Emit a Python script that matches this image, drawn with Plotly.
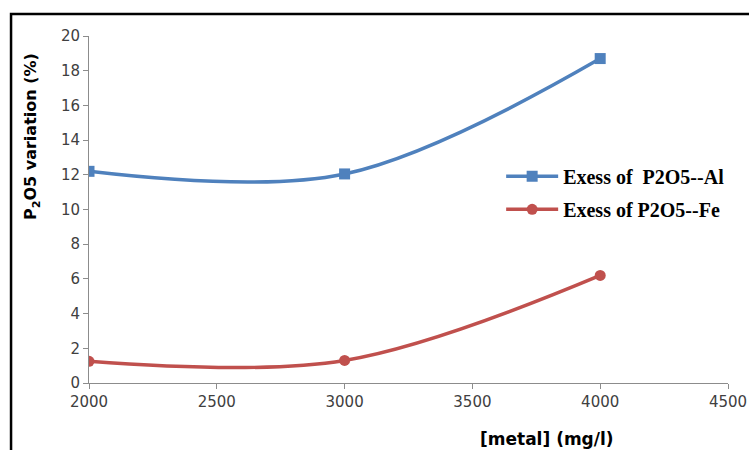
import plotly.graph_objects as go

metal = [2000, 3000, 4000]
excess_al = [12.2, 12.05, 18.7]
excess_fe = [1.25, 1.3, 6.2]
x_ticks = [2000, 2500, 3000, 3500, 4000, 4500]
y_ticks = [0, 2, 4, 6, 8, 10, 12, 14, 16, 18, 20]

fig = go.Figure()
fig.add_trace(go.Scatter(
    x=metal, y=excess_al, mode="lines+markers", name="<b>Exess of  P2O5--Al</b>",
    legendgroup="al",
    line=dict(color="#4F81BD", width=3.5, shape="spline", smoothing=1),
    marker=dict(symbol="square", size=11, color="#4F81BD")))
fig.add_trace(go.Scatter(
    x=metal, y=excess_fe, mode="lines+markers", name="<b>Exess of P2O5--Fe</b>",
    legendgroup="fe",
    line=dict(color="#C0504D", width=3.5, shape="spline", smoothing=1),
    marker=dict(symbol="circle", size=11, color="#C0504D")))

axis_font = dict(family="DejaVu Sans, sans-serif", size=15, color="#404040")
fig.update_layout(
    width=749, height=450,
    margin=dict(l=89, r=21, t=36, b=67),
    paper_bgcolor="white", plot_bgcolor="white",
    showlegend=True,
    legend=dict(x=0.645, y=0.548, xanchor="left", yanchor="middle",
                bgcolor="rgba(0,0,0,0)",
                font=dict(family="Liberation Serif, serif", size=20, color="black"),
                itemwidth=52, tracegroupgap=4),
    xaxis=dict(range=[2000, 4500], tickvals=x_ticks, showgrid=False, zeroline=False,
               showline=True, linecolor="#8c8c8c", linewidth=1,
               ticks="outside", ticklen=5, tickcolor="#8c8c8c",
               tickfont=axis_font, automargin=False),
    yaxis=dict(range=[0, 20], tickvals=y_ticks, showgrid=False, zeroline=False,
               showline=True, linecolor="#8c8c8c", linewidth=1,
               ticks="outside", ticklen=5, tickcolor="#8c8c8c",
               tickfont=axis_font, automargin=False),
)
fig.add_annotation(xref="paper", yref="paper", x=-0.089, y=0.709, xanchor="center", yanchor="middle",
                   text="<b>P<sub>2</sub>O5 variation (%)</b>", showarrow=False, textangle=-90,
                   font=dict(family="DejaVu Sans, sans-serif", size=16, color="black"))
fig.add_annotation(xref="paper", yref="paper", x=0.717, y=-0.161, xanchor="center", yanchor="middle",
                   text="<b>[metal] (mg/l)</b>", showarrow=False,
                   font=dict(family="DejaVu Sans, sans-serif", size=17, color="black"))
# outer frame
fig.add_shape(type="rect", xref="paper", yref="paper",
              x0=-0.122, x1=1.04, y0=-0.3, y1=1.0634,
              line=dict(color="black", width=2.5), fillcolor="rgba(0,0,0,0)")
fig.write_html("out.html", config={"displayModeBar": False},
               post_script="document.body.style.margin='0px';")
